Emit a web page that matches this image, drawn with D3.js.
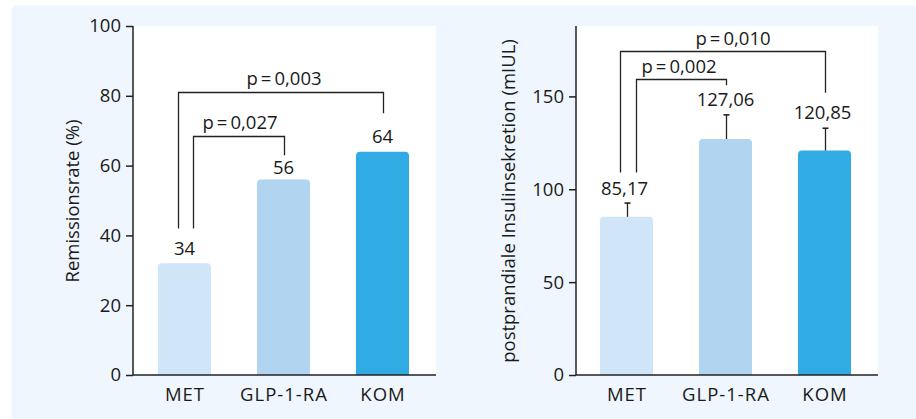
<!DOCTYPE html>
<html><head><meta charset="utf-8">
<script src="https://cdn.jsdelivr.net/npm/d3@7"></script>
<style>
html,body{margin:0;padding:0;background:#fff;}
svg{display:block;}
text{font-family:"Open Sans","Noto Sans",sans-serif;fill:#1a1a1a;}
</style></head>
<body>
<svg id="c" width="916" height="419"></svg>
<script>
// ---- data ----
const categories = ["MET", "GLP-1-RA", "KOM"];
const colors = ["#d1e5f8", "#b1d5f1", "#31abe3"];
// left chart: remission rate (%)
const remissionBars = [32, 56, 64];
const remissionLabels = ["34", "56", "64"];
const remissionTicks = [0, 20, 40, 60, 80, 100];
const remissionBrackets = [
  {from: 0, to: 1, level: 68.5, endTo: 63, endFrom: 42, text: "p\u2009=\u20090,027", off: 8.5},
  {from: 0, to: 2, level: 81, endTo: 75, endFrom: 42, text: "p\u2009=\u20090,003", off: -6.5}
];
// right chart: postprandial insulin secretion
const insulinValues = [85.17, 127.06, 120.85];
const insulinErrors = [7.4, 13, 12];
const insulinLabels = ["85,17", "127,06", "120,85"];
const insulinTicks = [0, 50, 100, 150];
const insulinBrackets = [
  {from: 0, to: 1, level: 159.5, endTo: 156, endFrom: 109, text: "p\u2009=\u20090,002", off: 9.5},
  {from: 0, to: 2, level: 174.7, endTo: 152, endFrom: 109, text: "p\u2009=\u20090,010", off: -6.5}
];

const FS = 18.5;
const svg = d3.select("#c");
// panel background
svg.append("rect").attr("x", 11.5).attr("y", 5.5).attr("width", 920).attr("height", 430)
  .attr("rx", 5).attr("fill", "#eff6fd");

function roundTopBar(x, y, w, h, r) {
  r = Math.min(r, h);
  return `M${x},${y + h}V${y + r}Q${x},${y} ${x + r},${y}H${x + w - r}Q${x + w},${y} ${x + w},${y + r}V${y + h}Z`;
}

function chart(opt) {
  const g = svg.append("g");
  const x = d3.scaleBand().domain(categories).range(opt.xr).paddingInner(0.4646).paddingOuter(0.2323);
  const y = d3.scaleLinear().domain(opt.yd).range([375, 26]);
  // white plot area
  g.append("rect").attr("x", opt.ax).attr("y", 26).attr("width", opt.xEnd - opt.ax).attr("height", 349).attr("fill", "#fff");
  // bars
  g.selectAll("path.bar").data(opt.values).join("path")
    .attr("d", (d, i) => roundTopBar(x(categories[i]), y(d), x.bandwidth(), y(0) - y(d), 4))
    .attr("fill", (d, i) => colors[i]);
  // error bars
  if (opt.errors) {
    opt.errors.forEach((e, i) => {
      const cx = Math.round(x(categories[i]) + x.bandwidth() / 2) + 0.5;
      g.append("line").attr("x1", cx).attr("x2", cx).attr("y1", y(opt.values[i])).attr("y2", y(opt.values[i] + e))
        .attr("stroke", "#222").attr("stroke-width", 1.3);
      g.append("line").attr("x1", cx - 3).attr("x2", cx + 3).attr("y1", y(opt.values[i] + e)).attr("y2", y(opt.values[i] + e))
        .attr("stroke", "#222").attr("stroke-width", 1.6);
    });
  }
  // value labels
  g.selectAll("text.val").data(opt.labels).join("text")
    .attr("x", (d, i) => x(categories[i]) + x.bandwidth() / 2 + (opt.labelDx ? opt.labelDx[i] : 0))
    .attr("y", (d, i) => y(opt.labelPos[i]))
    .attr("text-anchor", "middle").attr("font-size", FS).text(d => d);
  // brackets
  opt.brackets.forEach((b, i) => {
    const x0 = Math.round(x(categories[b.from]) + x.bandwidth() / 2 + b.off) + 0.5;
    const x1 = Math.round(x(categories[b.to]) + x.bandwidth() / 2) + 0.5;
    const yl = Math.round(y(b.level)) + 0.5;
    g.append("path").attr("d", `M${x0},${y(b.endFrom)}V${yl}H${x1}V${y(b.endTo)}`)
      .attr("fill", "none").attr("stroke", "#222").attr("stroke-width", 1.3);
    g.append("text").attr("x", opt.bracketTextX[i]).attr("y", yl - opt.bracketGap).attr("text-anchor", "middle")
      .attr("font-size", FS).text(b.text);
  });
  // axes
  const ya = g.append("g").attr("transform", `translate(${opt.ax},0)`)
    .call(d3.axisLeft(y).tickValues(opt.ticks).tickSize(7).tickPadding(5).tickSizeOuter(0));
  ya.select(".domain").attr("d", `M0,26V375`);
  ya.selectAll("text").attr("font-size", FS).attr("font-family", null).attr("fill", "#1a1a1a");
  ya.selectAll("line, path").attr("stroke", "#222").attr("stroke-width", 1.5);
  const xa = g.append("g").attr("transform", `translate(0,375)`)
    .call(d3.axisBottom(x).tickSize(0).tickPadding(12.5));
  xa.select(".domain").attr("d", `M${opt.ax},0H${opt.xEnd}`).attr("stroke", "#222").attr("stroke-width", 1.5);
  xa.selectAll("text").attr("font-size", FS).attr("font-family", null).attr("fill", "#1a1a1a")
    .attr("letter-spacing", 1).attr("dx", 0.5);
  // y title
  g.append("text").attr("transform", `translate(${opt.titleX},${201}) rotate(-90)`)
    .attr("text-anchor", "middle").attr("font-size", FS).text(opt.title);
}

chart({
  xr: [135, 432], ax: 133, xEnd: 436, yd: [0, 100], ticks: remissionTicks,
  values: remissionBars, labels: remissionLabels, labelPos: [34.5, 57.7, 66.4],
  brackets: remissionBrackets, bracketTextX: [240, 284], bracketGap: 8,
  title: "Remissionsrate (%)", titleX: 78.5
});
chart({
  xr: [577, 874], ax: 576, xEnd: 878, yd: [0, 187.9], ticks: insulinTicks,
  values: insulinValues, errors: insulinErrors, labels: insulinLabels, labelPos: [97, 144.7, 137.6],
  labelDx: [-2, 0, -2],
  brackets: insulinBrackets, bracketTextX: [679, 733], bracketGap: 7,
  title: "postprandiale Insulinsekretion (mIUL)", titleX: 515
});
</script>
</body></html>
